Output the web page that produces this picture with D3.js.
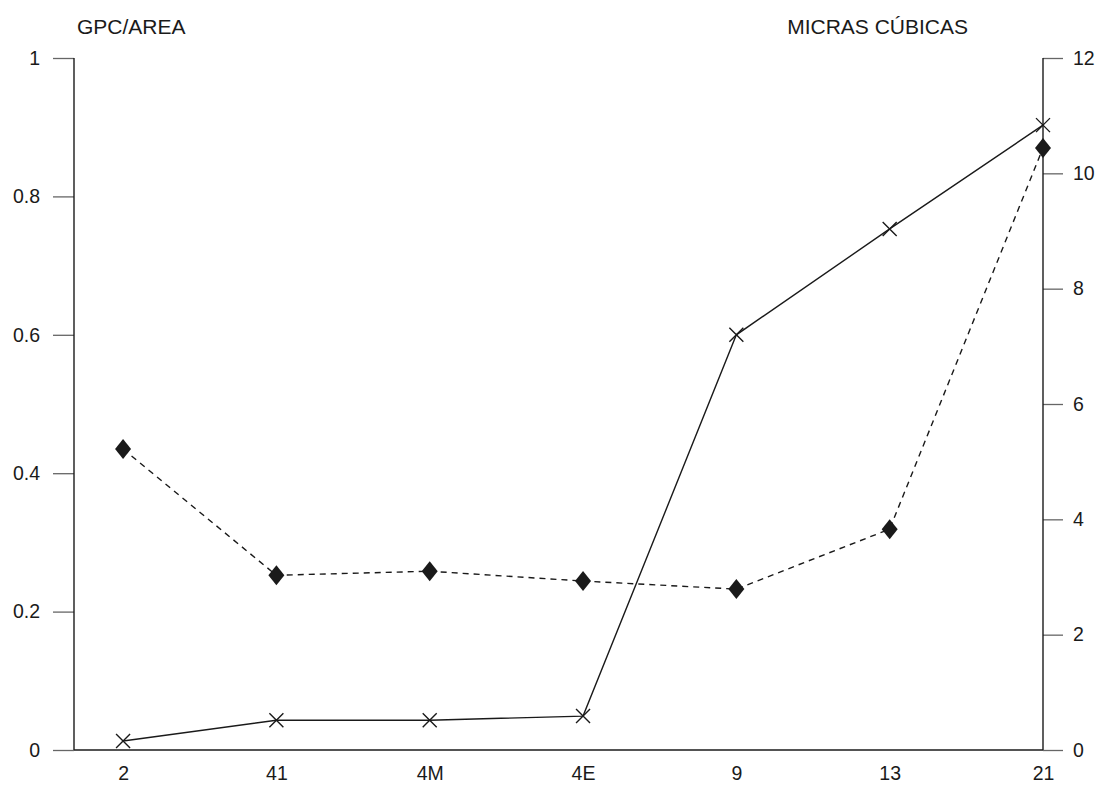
<!DOCTYPE html>
<html><head><meta charset="utf-8">
<script src="https://cdn.jsdelivr.net/npm/d3@7"></script>
<style>body{margin:0;background:#fff}svg{display:block}text{font-family:"Liberation Sans",Arial,sans-serif;fill:#1a1a1a}</style>
</head><body>
<script>
const categories = ["2","41","4M","4E","9","13","21"];
const gpcArea = [0.013, 0.043, 0.043, 0.049, 0.600, 0.753, 0.903];
const micras = [5.22, 3.03, 3.10, 2.93, 2.79, 3.83, 10.44];
const leftTicks = [0, 0.2, 0.4, 0.6, 0.8, 1];
const rightTicks = [0, 2, 4, 6, 8, 10, 12];

const W = 1097, H = 786;
const svg = d3.select("body").append("svg").attr("width", W).attr("height", H);
const x = d3.scaleLinear().domain([-0.32, 6]).range([74, 1043]);
const yL = d3.scaleLinear().domain([0, 1]).range([750, 58]);
const yR = d3.scaleLinear().domain([0, 12]).range([750, 58]);
const ink = "#1a1a1a";
const tickInk = "#666";
const font = '"Liberation Sans",Arial,sans-serif';

// left axis
const gL = svg.append("g").attr("transform", "translate(74,0)")
  .call(d3.axisLeft(yL).tickValues(leftTicks).tickFormat(d => d === 0 || d === 1 ? d3.format("d")(d) : d3.format(".1f")(d)).tickSize(21).tickPadding(13));
// right axis
const gR = svg.append("g").attr("transform", "translate(1043,0)")
  .call(d3.axisRight(yR).tickValues(rightTicks).tickFormat(d3.format("d")).tickSize(20).tickPadding(10));
[gL, gR].forEach(g => {
  g.select(".domain").remove();
  g.selectAll(".tick line").attr("stroke", tickInk).attr("stroke-width", 1.3);
  g.selectAll(".tick text").style("font-size", "19.5px").attr("fill", ink).style("font-family", font);
});
svg.append("line").attr("x1", 74).attr("x2", 74).attr("y1", 750).attr("y2", 58).attr("stroke", ink).attr("stroke-width", 1.4);
svg.append("line").attr("x1", 1043).attr("x2", 1043).attr("y1", 750).attr("y2", 58).attr("stroke", ink).attr("stroke-width", 1.4);

// bottom axis
const gB = svg.append("g").attr("transform", "translate(0,750)")
  .call(d3.axisBottom(x).tickValues(d3.range(categories.length)).tickFormat(i => categories[i]).tickSize(0).tickPadding(16));
gB.select(".domain").attr("d", "M74,0H1043").attr("stroke", ink).attr("stroke-width", 1.4);
gB.selectAll(".tick text").style("font-size", "19.5px").attr("fill", ink).style("font-family", font);

// titles
svg.append("text").attr("x", 77).attr("y", 34).style("font-size", "21px").text("GPC/AREA");
svg.append("text").attr("x", 968).attr("y", 34).attr("text-anchor", "end").style("font-size", "21px").text("MICRAS CÚBICAS");

// dashed diamond line (right axis)
const idx = d3.range(categories.length);
svg.append("path").datum(idx)
  .attr("fill", "none").attr("stroke", ink).attr("stroke-width", 1.4).attr("stroke-dasharray", "6,5")
  .attr("d", d3.line().x(i => x(i)).y(i => yR(micras[i])));
svg.selectAll(".dia").data(idx).enter().append("path")
  .attr("transform", i => `translate(${x(i)},${yR(micras[i])})`)
  .attr("d", "M0,-10L8,0L0,10L-8,0Z").attr("fill", ink);

// solid cross line (left axis)
svg.append("path").datum(idx)
  .attr("fill", "none").attr("stroke", ink).attr("stroke-width", 1.4)
  .attr("d", d3.line().x(i => x(i)).y(i => yL(gpcArea[i])));
svg.selectAll(".cross").data(idx).enter().append("path")
  .attr("transform", i => `translate(${x(i)},${yL(gpcArea[i])})`)
  .attr("d", "M-7,-7L7,7M-7,7L7,-7").attr("stroke", ink).attr("stroke-width", 1.4).attr("fill", "none");
</script>
</body></html>
